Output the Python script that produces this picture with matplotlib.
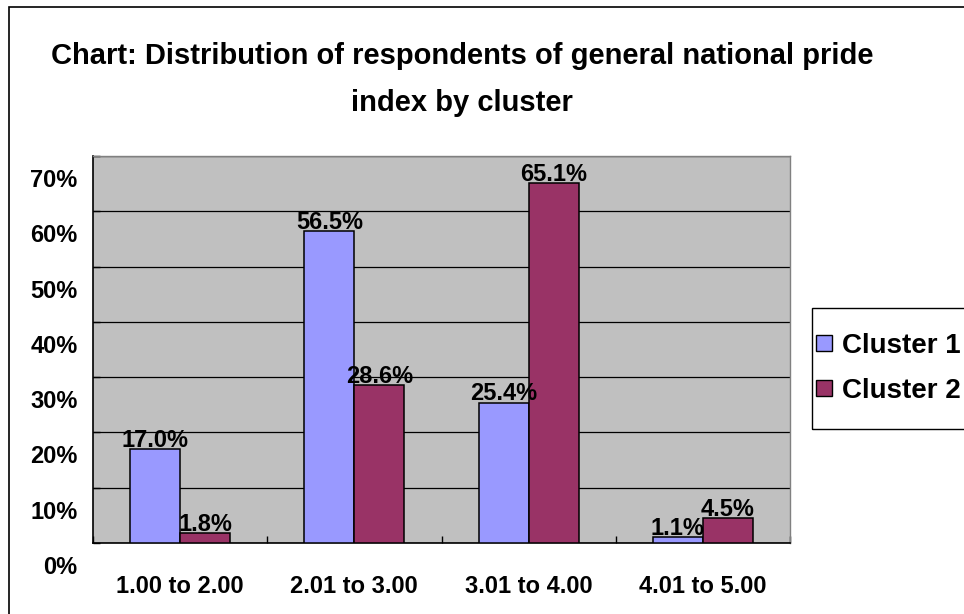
import matplotlib
matplotlib.use("Agg")
import matplotlib.pyplot as plt
import matplotlib.patches as mpatches
import matplotlib.transforms as mtransforms
import numpy as np

categories = ["1.00 to 2.00", "2.01 to 3.00", "3.01 to 4.00", "4.01 to 5.00"]
cluster1 = [17.0, 56.5, 25.4, 1.1]
cluster2 = [1.8, 28.6, 65.1, 4.5]
series_names = ["Cluster 1", "Cluster 2"]
yticks = [0, 10, 20, 30, 40, 50, 60, 70]

plt.rcParams['font.family'] = ['Liberation Sans', 'DejaVu Sans']
plt.rcParams['font.weight'] = 'bold'

W, H = 964, 614
fig = plt.figure(figsize=(W / 100, H / 100), dpi=100)
ax = fig.add_axes([93 / W, (H - 543) / H, 697 / W, (543 - 156) / H])
ax.set_facecolor('#C0C0C0')

x = np.arange(len(categories))
bw = 0.287
b1 = ax.bar(x - bw, cluster1, bw, align='edge', color='#9999FF', edgecolor='black', linewidth=1.1, zorder=3)
b2 = ax.bar(x, cluster2, bw, align='edge', color='#993366', edgecolor='black', linewidth=1.1, zorder=3)

for bars, vals in ((b1, cluster1), (b2, cluster2)):
    for r, v in zip(bars, vals):
        ax.annotate(f"{v:.1f}%", (r.get_x() + r.get_width() / 2, v), xytext=(0, 1.5),
                    textcoords='offset points', ha='center', va='baseline',
                    fontsize=17, fontweight='bold', zorder=4)

ax.set_xlim(-0.5, len(categories) - 0.5)
ax.set_ylim(0, 70)
ax.set_yticks(yticks)
ax.set_yticklabels([f"{t}%" for t in yticks])
ax.yaxis.grid(True, color='black', linewidth=0.9, zorder=1)
ax.set_axisbelow(True)

ax.set_xticks(x)
ax.set_xticklabels(categories)
ax.set_xticks(np.arange(len(categories) + 1) - 0.5, minor=True)
ax.tick_params(axis='x', which='major', length=0, pad=23, labelsize=17)
ax.tick_params(axis='x', which='minor', direction='in', length=5, width=1)
ax.tick_params(axis='y', direction='in', length=5, width=1, pad=11, labelsize=17)

# excel puts the value labels a bit below their gridline
off = mtransforms.ScaledTranslation(0, -22 / 100, fig.dpi_scale_trans)
for lab in ax.get_yticklabels():
    lab.set_transform(lab.get_transform() + off)
    lab.set_fontweight('bold')
for lab in ax.get_xticklabels():
    lab.set_fontweight('bold')

for s in ('left', 'bottom'):
    ax.spines[s].set_color('black')
    ax.spines[s].set_linewidth(1.2)
for s in ('top', 'right'):
    ax.spines[s].set_color('#808080')
    ax.spines[s].set_linewidth(1.0)

fig.text(462 / W, 1 - 56 / H, "Chart: Distribution of respondents of general national pride",
         ha='center', va='center', fontsize=21, fontweight='bold')
fig.text(462 / W, 1 - 103 / H, "index by cluster",
         ha='center', va='center', fontsize=21, fontweight='bold')


def fx(v):
    return v / W


def fy(v):
    return 1 - v / H


# legend box drawn by hand, right side runs off the picture like the original
fig.patches.append(mpatches.Rectangle((fx(812), fy(429)), fx(200), (429 - 308) / H,
                                      transform=fig.transFigure, fill=False,
                                      edgecolor='black', linewidth=1.0))
for i, (name, bars) in enumerate(zip(series_names, (b1, b2))):
    yc = 343 + 45 * i
    fig.patches.append(mpatches.Rectangle((fx(816), fy(yc + 8)), 16 / W, 16 / H,
                                          transform=fig.transFigure,
                                          facecolor=bars[0].get_facecolor(),
                                          edgecolor='black', linewidth=1.0))
    fig.text(fx(842), fy(yc), name, ha='left', va='center_baseline', fontsize=20, fontweight='bold')

# outer chart border
fig.patches.append(mpatches.Rectangle((9 / W, -0.1), 1.2, 1.1 - 7 / H,
                                      transform=fig.transFigure, fill=False,
                                      edgecolor='black', linewidth=1.2))

fig.savefig("out.png", dpi=100)
